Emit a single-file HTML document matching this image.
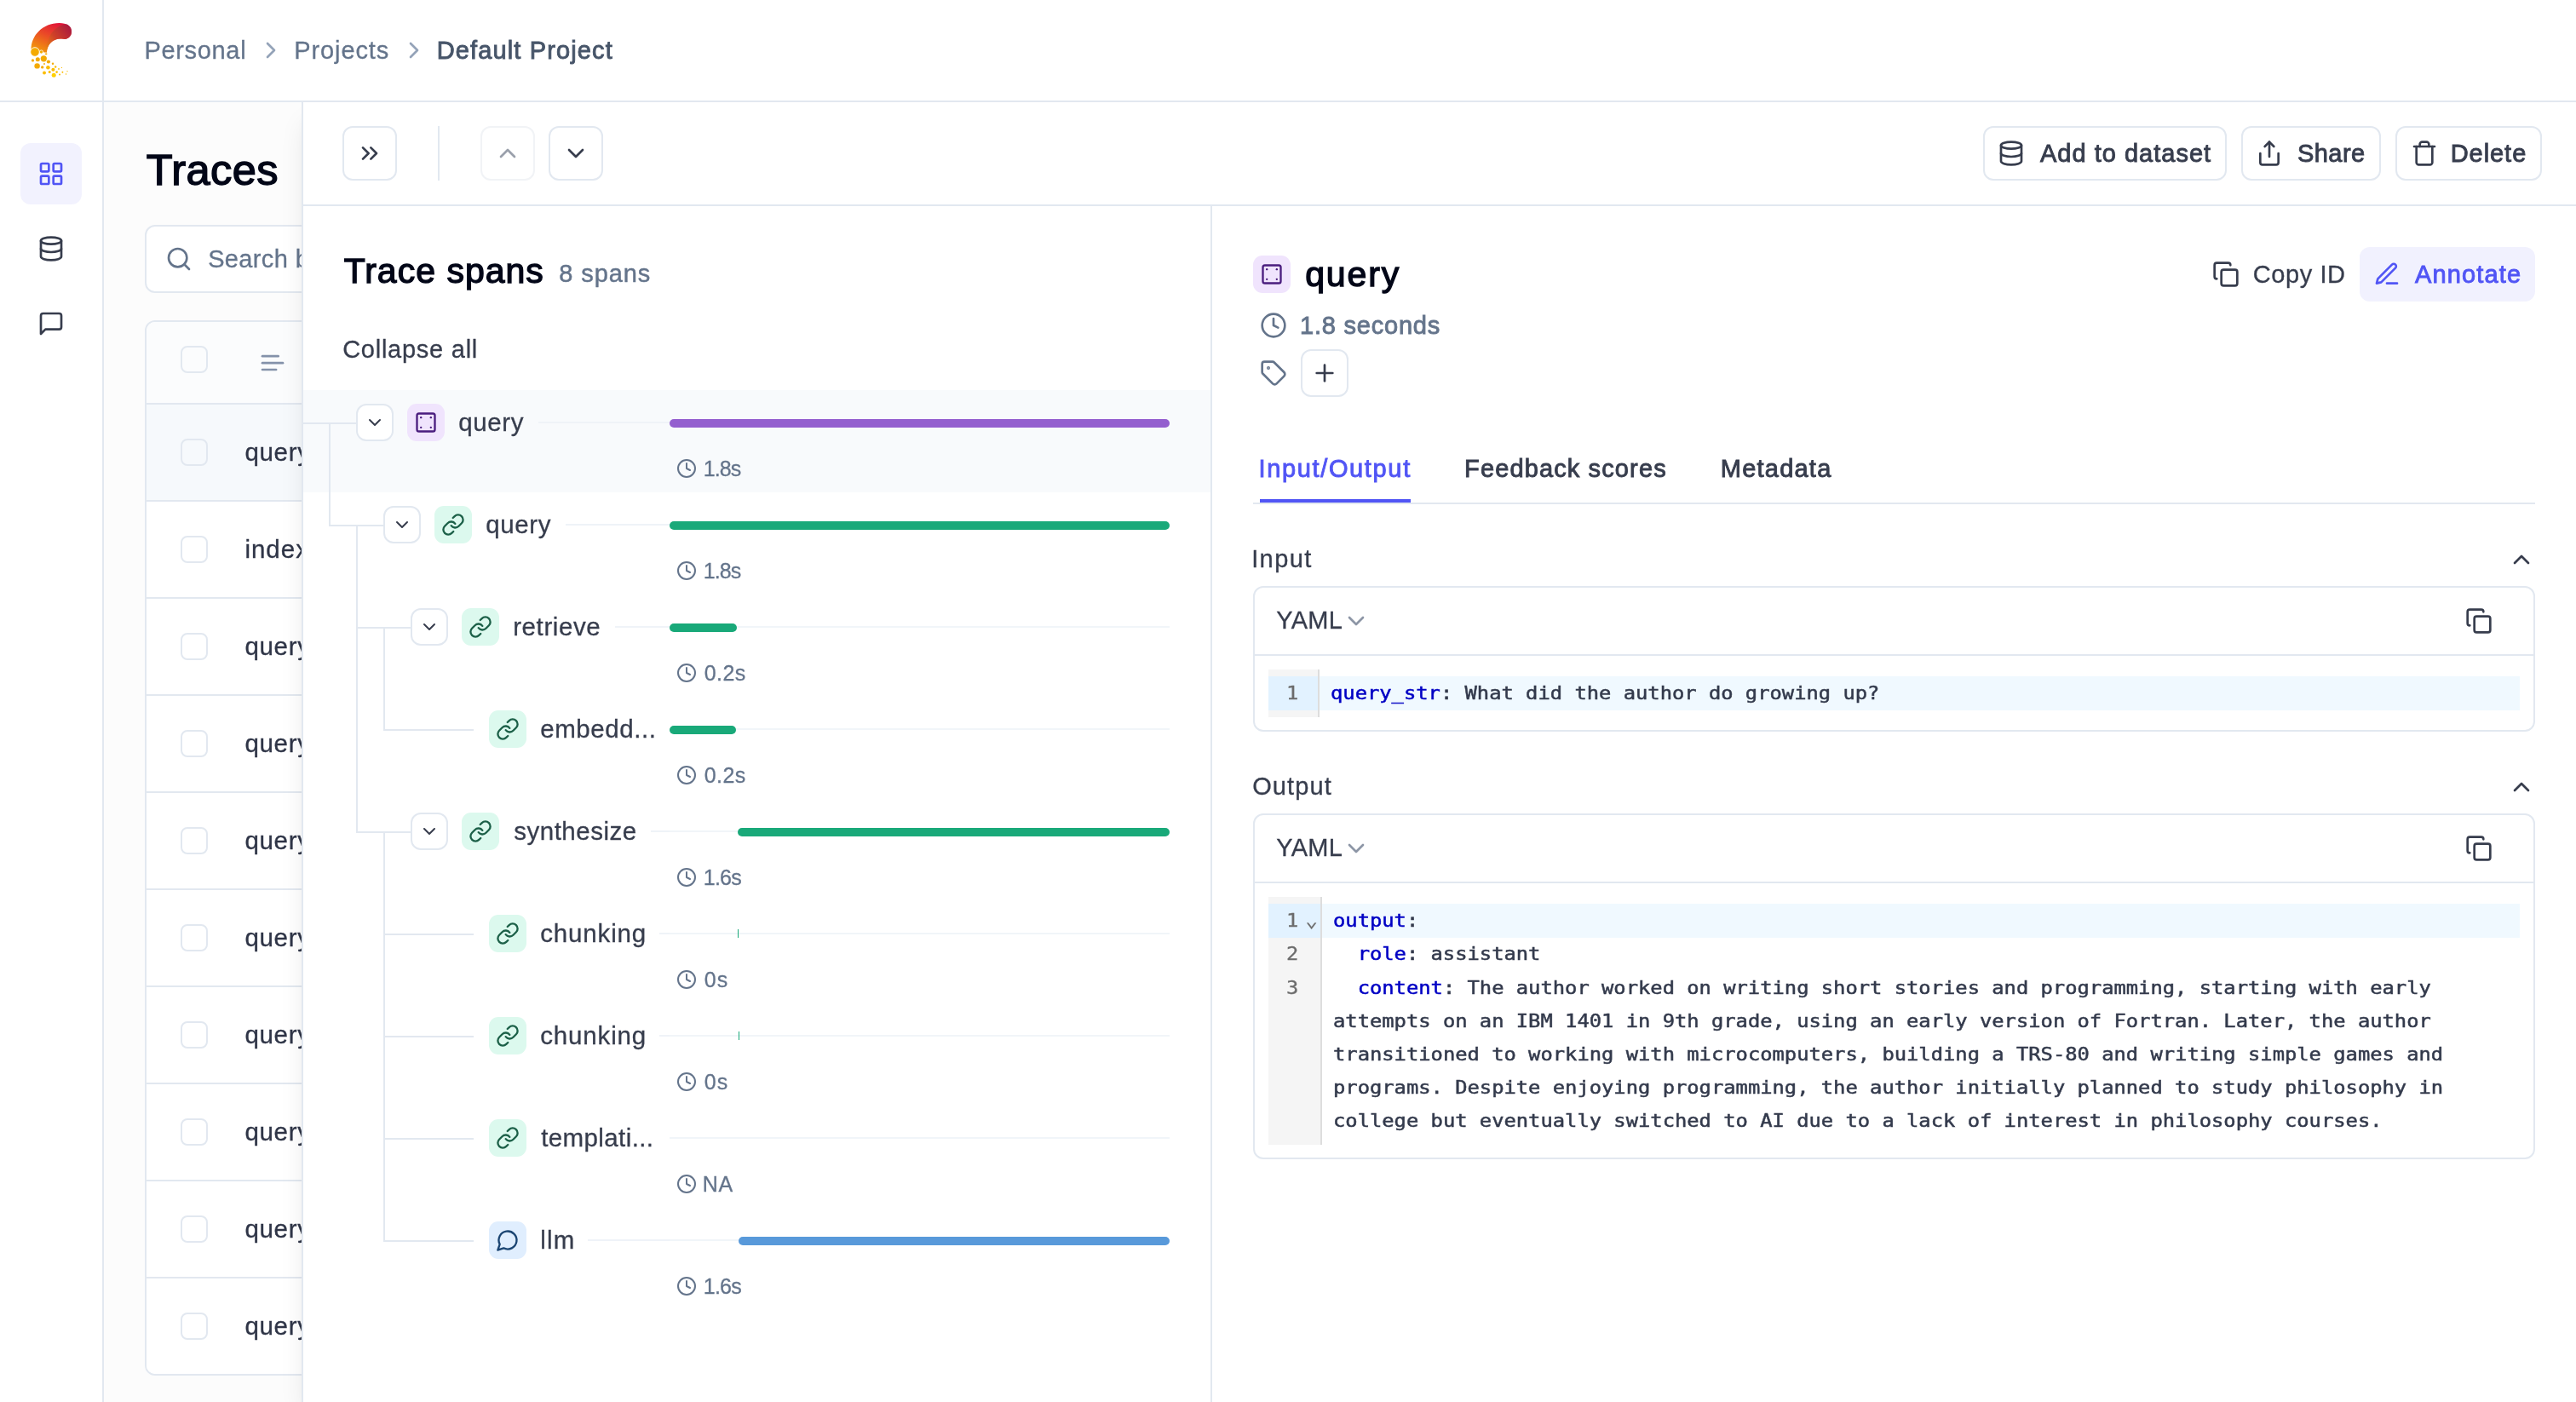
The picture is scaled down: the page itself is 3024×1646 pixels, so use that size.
<!DOCTYPE html>
<html lang="en">
<head>
<meta charset="utf-8">
<title>Traces - Default Project</title>
<style>
html,body{margin:0;padding:0;background:#fff}
body{width:3024px;height:1646px;overflow:hidden;font-family:"Liberation Sans", Arial, sans-serif;-webkit-font-smoothing:antialiased}
#app{will-change:transform;position:relative;width:3024px;height:1646px;overflow:hidden;background:#fff}
#app div,#app section,#app svg.ic,#app span.t{position:absolute}
#main{position:absolute;left:122px;top:120px;width:2902px;height:1526px;background:#fcfcfc}
#main>*{margin-left:-122px;margin-top:-120px}
#side{position:absolute;left:0;top:0;width:120px;height:1646px;background:#fff;border-right:2px solid #e2e8f0}
#hdr{position:absolute;left:0;top:0;width:3024px;height:118px;border-bottom:2px solid #e2e8f0;background:transparent}
#sheet{position:absolute;left:354px;top:120px;width:2668px;height:1526px;background:#fff;border-left:2px solid #e2e8f0;box-shadow:0 20px 30px -6px rgba(0,0,0,.10), 0 8px 12px -8px rgba(0,0,0,.10);clip-path:inset(0 0 0 -200px)}
span.t{white-space:pre;line-height:1;display:block}
span.m{font-family:"DejaVu Sans Mono", "Liberation Mono", monospace;transform:scaleY(.9);transform-origin:0 84.6%}
</style>
</head>
<body>
<div id="app">
<main id="main">
<span class="t" style="left:171.75px;top:175.45px;font-size:50.5px;color:#020617;-webkit-text-stroke:1.5px #020617;letter-spacing:0.458px;">Traces</span>
<div style="left:170px;top:264px;width:700px;height:80px;border:2px solid #e2e8f0;border-radius:12px;background:#fff;box-sizing:border-box"></div>
<svg class="ic" style="left:194px;top:288px;color:#64748b;" width="32" height="32" viewBox="0 0 24 24" fill="none" stroke="currentColor" stroke-width="2" stroke-linecap="round" stroke-linejoin="round"><circle cx="11" cy="11" r="8"/><path d="m21 21-4.3-4.3"/></svg>
<span class="t" style="left:244.15px;top:290.35px;font-size:29px;color:#64748b;-webkit-text-stroke:0.3px #64748b;letter-spacing:0.365px;">Search by ID</span>
<section id="tbl" style="left:170px;top:376px;width:1400px;height:1239px;border:2px solid #e2e8f0;border-radius:12px;background:#fff;box-sizing:border-box;overflow:hidden">
<div style="left:0;top:0;width:100%;height:95px;background:#fbfcfd;border-bottom:2px solid #e2e8f0"></div>
<div style="left:0;top:97px;width:100%;height:112px;background:#f6f9fc;border-bottom:2px solid #e2e8f0;"></div>
<div style="left:0;top:211px;width:100%;height:112px;background:#fff;border-bottom:2px solid #e2e8f0;"></div>
<div style="left:0;top:325px;width:100%;height:112px;background:#fff;border-bottom:2px solid #e2e8f0;"></div>
<div style="left:0;top:439px;width:100%;height:112px;background:#fff;border-bottom:2px solid #e2e8f0;"></div>
<div style="left:0;top:553px;width:100%;height:112px;background:#fff;border-bottom:2px solid #e2e8f0;"></div>
<div style="left:0;top:667px;width:100%;height:112px;background:#fff;border-bottom:2px solid #e2e8f0;"></div>
<div style="left:0;top:781px;width:100%;height:112px;background:#fff;border-bottom:2px solid #e2e8f0;"></div>
<div style="left:0;top:895px;width:100%;height:112px;background:#fff;border-bottom:2px solid #e2e8f0;"></div>
<div style="left:0;top:1009px;width:100%;height:112px;background:#fff;border-bottom:2px solid #e2e8f0;"></div>
<div style="left:0;top:1123px;width:100%;height:112px;background:#fff;"></div>
</section>
<div style="left:212px;top:406px;width:32px;height:32px;border:2px solid #e2e8f0;border-radius:8px;box-sizing:border-box"></div>
<svg class="ic" style="left:304px;top:410px;color:#8492aa;" width="32" height="32" viewBox="0 0 24 24" fill="none" stroke="currentColor" stroke-width="2" stroke-linecap="round" stroke-linejoin="round"><path d="M17 6.1H3"/><path d="M21 12.1H3"/><path d="M15.1 18H3"/></svg>
<span class="t" style="left:352.15px;top:412.35px;font-size:29px;color:#64748b;-webkit-text-stroke:0.3px #64748b;">ID</span>
<div style="left:212px;top:515px;width:32px;height:32px;border:2px solid #e2e8f0;border-radius:8px;box-sizing:border-box"></div>
<span class="t" style="left:287.45px;top:515.93px;font-size:29.5px;color:#2f3547;-webkit-text-stroke:0.3px #2f3547;letter-spacing:0.664px;">query</span>
<div style="left:212px;top:629px;width:32px;height:32px;border:2px solid #e2e8f0;border-radius:8px;box-sizing:border-box"></div>
<span class="t" style="left:287.45px;top:629.93px;font-size:29.5px;color:#2f3547;-webkit-text-stroke:0.3px #2f3547;letter-spacing:0.982px;">index</span>
<div style="left:212px;top:743px;width:32px;height:32px;border:2px solid #e2e8f0;border-radius:8px;box-sizing:border-box"></div>
<span class="t" style="left:287.45px;top:743.93px;font-size:29.5px;color:#2f3547;-webkit-text-stroke:0.3px #2f3547;letter-spacing:0.664px;">query</span>
<div style="left:212px;top:857px;width:32px;height:32px;border:2px solid #e2e8f0;border-radius:8px;box-sizing:border-box"></div>
<span class="t" style="left:287.45px;top:857.93px;font-size:29.5px;color:#2f3547;-webkit-text-stroke:0.3px #2f3547;letter-spacing:0.664px;">query</span>
<div style="left:212px;top:971px;width:32px;height:32px;border:2px solid #e2e8f0;border-radius:8px;box-sizing:border-box"></div>
<span class="t" style="left:287.45px;top:971.93px;font-size:29.5px;color:#2f3547;-webkit-text-stroke:0.3px #2f3547;letter-spacing:0.664px;">query</span>
<div style="left:212px;top:1085px;width:32px;height:32px;border:2px solid #e2e8f0;border-radius:8px;box-sizing:border-box"></div>
<span class="t" style="left:287.45px;top:1085.93px;font-size:29.5px;color:#2f3547;-webkit-text-stroke:0.3px #2f3547;letter-spacing:0.664px;">query</span>
<div style="left:212px;top:1199px;width:32px;height:32px;border:2px solid #e2e8f0;border-radius:8px;box-sizing:border-box"></div>
<span class="t" style="left:287.45px;top:1199.93px;font-size:29.5px;color:#2f3547;-webkit-text-stroke:0.3px #2f3547;letter-spacing:0.664px;">query</span>
<div style="left:212px;top:1313px;width:32px;height:32px;border:2px solid #e2e8f0;border-radius:8px;box-sizing:border-box"></div>
<span class="t" style="left:287.45px;top:1313.93px;font-size:29.5px;color:#2f3547;-webkit-text-stroke:0.3px #2f3547;letter-spacing:0.664px;">query</span>
<div style="left:212px;top:1427px;width:32px;height:32px;border:2px solid #e2e8f0;border-radius:8px;box-sizing:border-box"></div>
<span class="t" style="left:287.45px;top:1427.93px;font-size:29.5px;color:#2f3547;-webkit-text-stroke:0.3px #2f3547;letter-spacing:0.664px;">query</span>
<div style="left:212px;top:1541px;width:32px;height:32px;border:2px solid #e2e8f0;border-radius:8px;box-sizing:border-box"></div>
<span class="t" style="left:287.45px;top:1541.93px;font-size:29.5px;color:#2f3547;-webkit-text-stroke:0.3px #2f3547;letter-spacing:0.664px;">query</span>
</main>
<nav id="side">
<svg class="ic" style="left:30px;top:22px" width="64" height="76" viewBox="30 22 64 76">
<defs>
<linearGradient id="lg1" x1="0.75" y1="0" x2="0.15" y2="1"><stop offset="0" stop-color="#e0103a"/><stop offset="0.45" stop-color="#ea4a27"/><stop offset="1" stop-color="#f3a008"/></linearGradient>
<linearGradient id="lg2" x1="1" y1="0.1" x2="0" y2="0.9"><stop offset="0" stop-color="#a8173f"/><stop offset="0.55" stop-color="#cf4128"/><stop offset="1" stop-color="#ee8a10"/></linearGradient>
</defs>
<path d="M36.6 58.5 C36.2 41.5 50.5 27 69.5 27 C78.5 27 84.2 31.5 84 37.6 C83.8 43.2 79.2 46.6 74.6 45.8 C64.5 43.6 55.4 50.2 54.8 62 Z" fill="url(#lg1)"/>
<path d="M56.5 47.5 C59.5 36.5 68.5 29.5 77.5 28.2 C82 29.6 84.2 33.2 84 37.6 C83.8 43.2 79.2 46.6 74.6 45.8 C64.5 43.6 55.4 50.2 54.8 62 L52.5 60 C52.8 55.5 54.2 51.5 56.5 47.5 Z" fill="url(#lg2)"/>
<g fill="#f4aa00">
<circle cx="41" cy="61" r="5.3" stroke="#fff" stroke-width="0.9"/><circle cx="48.5" cy="61" r="2.1" stroke="#fff" stroke-width="0.7"/><circle cx="54.1" cy="63.3" r="1.4" stroke="#fff" stroke-width="0.6"/>
<circle cx="51.3" cy="68.8" r="3.6"/><circle cx="44.3" cy="69.7" r="2.5"/><circle cx="38.5" cy="70.9" r="1.6"/><circle cx="56.9" cy="72.5" r="2.1"/>
<circle cx="62" cy="74.8" r="1.2"/><circle cx="52" cy="75" r="0.95"/><circle cx="43.6" cy="77.4" r="3.2"/><circle cx="49.7" cy="78.9" r="1.7"/>
</g>
<g fill="#fbbc00">
<circle cx="56.4" cy="79.2" r="2.3"/><circle cx="65.2" cy="78.5" r="1.2"/><circle cx="69" cy="80.9" r="0.95"/><circle cx="72.5" cy="79.4" r="0.55"/>
<circle cx="62.4" cy="81.8" r="2.05"/><circle cx="58.2" cy="84.5" r="1.5"/><circle cx="66.6" cy="84.6" r="1.3"/><circle cx="73.4" cy="84.8" r="0.95"/><circle cx="79" cy="83.7" r="0.65"/>
<circle cx="52" cy="85.5" r="1.95"/><circle cx="70" cy="87.4" r="1.0"/><circle cx="77.5" cy="87.1" r="0.75"/>
</g>
<circle cx="63.2" cy="88.2" r="2.5" fill="#ffd000"/>
</svg>
<div style="left:24px;top:168px;width:72px;height:72px;background:#f2f2fe;border-radius:12px"></div>
<svg class="ic" style="left:44px;top:188px;color:#5155f5;" width="32" height="32" viewBox="0 0 24 24" fill="none" stroke="currentColor" stroke-width="2" stroke-linecap="round" stroke-linejoin="round"><rect width="7" height="7" x="3" y="3" rx="1"/><rect width="7" height="7" x="14" y="3" rx="1"/><rect width="7" height="7" x="14" y="14" rx="1"/><rect width="7" height="7" x="3" y="14" rx="1"/></svg>
<svg class="ic" style="left:44px;top:276px;color:#373d4d;" width="32" height="32" viewBox="0 0 24 24" fill="none" stroke="currentColor" stroke-width="2" stroke-linecap="round" stroke-linejoin="round"><ellipse cx="12" cy="5" rx="9" ry="3"/><path d="M3 5V19A9 3 0 0 0 21 19V5"/><path d="M3 12A9 3 0 0 0 21 12"/></svg>
<svg class="ic" style="left:44px;top:364px;color:#373d4d;" width="32" height="32" viewBox="0 0 24 24" fill="none" stroke="currentColor" stroke-width="2" stroke-linecap="round" stroke-linejoin="round"><path d="M21 15a2 2 0 0 1-2 2H7l-4 4V5a2 2 0 0 1 2-2h14a2 2 0 0 1 2 2z"/></svg>
</nav>
<header id="hdr">
<span class="t" style="left:169.45px;top:45.35px;font-size:29px;color:#64748b;-webkit-text-stroke:0.3px #64748b;letter-spacing:0.669px;">Personal</span>
<svg class="ic" style="left:302px;top:42.5px;color:#94a3b8;" width="32" height="32" viewBox="0 0 24 24" fill="none" stroke="currentColor" stroke-width="2" stroke-linecap="round" stroke-linejoin="round"><path d="m9 18 6-6-6-6"/></svg>
<span class="t" style="left:345.15px;top:45.35px;font-size:29px;color:#64748b;-webkit-text-stroke:0.3px #64748b;letter-spacing:0.920px;">Projects</span>
<svg class="ic" style="left:470px;top:42.5px;color:#94a3b8;" width="32" height="32" viewBox="0 0 24 24" fill="none" stroke="currentColor" stroke-width="2" stroke-linecap="round" stroke-linejoin="round"><path d="m9 18 6-6-6-6"/></svg>
<span class="t" style="left:512.65px;top:45.35px;font-size:29px;color:#475569;-webkit-text-stroke:0.9px #475569;letter-spacing:1.140px;">Default Project</span>
</header>
<aside id="sheet">
</aside>
<div style="left:402px;top:148px;width:64px;height:64px;border:2px solid #e2e8f0;border-radius:12px;background:#fff;box-sizing:border-box;"></div>
<svg class="ic" style="left:418px;top:164px;color:#373d4d;" width="32" height="32" viewBox="0 0 24 24" fill="none" stroke="currentColor" stroke-width="2" stroke-linecap="round" stroke-linejoin="round"><path d="m6 17 5-5-5-5"/><path d="m13 17 5-5-5-5"/></svg>
<div style="left:514px;top:148px;width:2px;height:64px;background:#e2e8f0"></div>
<div style="left:564px;top:148px;width:64px;height:64px;border:2px solid #e2e8f0;border-radius:12px;background:#fff;box-sizing:border-box;border-color:#f1f3f6"></div>
<svg class="ic" style="left:580px;top:164px;color:#9aa0ab;" width="32" height="32" viewBox="0 0 24 24" fill="none" stroke="currentColor" stroke-width="2" stroke-linecap="round" stroke-linejoin="round"><path d="m18 15-6-6-6 6"/></svg>
<div style="left:644px;top:148px;width:64px;height:64px;border:2px solid #e2e8f0;border-radius:12px;background:#fff;box-sizing:border-box;"></div>
<svg class="ic" style="left:660px;top:164px;color:#373d4d;" width="32" height="32" viewBox="0 0 24 24" fill="none" stroke="currentColor" stroke-width="2" stroke-linecap="round" stroke-linejoin="round"><path d="m6 9 6 6 6-6"/></svg>
<div style="left:2328px;top:148px;width:286px;height:64px;border:2px solid #e2e8f0;border-radius:12px;background:#fff;box-sizing:border-box;"></div>
<svg class="ic" style="left:2345px;top:164px;color:#373d4d;" width="32" height="32" viewBox="0 0 24 24" fill="none" stroke="currentColor" stroke-width="2" stroke-linecap="round" stroke-linejoin="round"><ellipse cx="12" cy="5" rx="9" ry="3"/><path d="M3 5V19A9 3 0 0 0 21 19V5"/><path d="M3 12A9 3 0 0 0 21 12"/></svg>
<span class="t" style="left:2394.95px;top:165.95px;font-size:29px;color:#373d4d;-webkit-text-stroke:0.9px #373d4d;letter-spacing:1.010px;">Add to dataset</span>
<div style="left:2631px;top:148px;width:164px;height:64px;border:2px solid #e2e8f0;border-radius:12px;background:#fff;box-sizing:border-box;"></div>
<svg class="ic" style="left:2648px;top:164px;color:#373d4d;" width="32" height="32" viewBox="0 0 24 24" fill="none" stroke="currentColor" stroke-width="2" stroke-linecap="round" stroke-linejoin="round"><path d="M4 12v8a2 2 0 0 0 2 2h12a2 2 0 0 0 2-2v-8"/><polyline points="16 6 12 2 8 6"/><line x1="12" x2="12" y1="2" y2="15"/></svg>
<span class="t" style="left:2696.95px;top:165.95px;font-size:29px;color:#373d4d;-webkit-text-stroke:0.9px #373d4d;letter-spacing:0.461px;">Share</span>
<div style="left:2812px;top:148px;width:172px;height:64px;border:2px solid #e2e8f0;border-radius:12px;background:#fff;box-sizing:border-box;"></div>
<svg class="ic" style="left:2829.5px;top:164px;color:#373d4d;" width="32" height="32" viewBox="0 0 24 24" fill="none" stroke="currentColor" stroke-width="2" stroke-linecap="round" stroke-linejoin="round"><path d="M3 6h18"/><path d="M19 6v14c0 1-1 2-2 2H7c-1 0-2-1-2-2V6"/><path d="M8 6V4c0-1 1-2 2-2h4c1 0 2 1 2 2v2"/></svg>
<span class="t" style="left:2876.65px;top:165.95px;font-size:29px;color:#373d4d;-webkit-text-stroke:0.9px #373d4d;letter-spacing:0.960px;">Delete</span>
<div style="left:356px;top:240px;width:2668px;height:2px;background:#e2e8f0"></div>
<div style="left:1421px;top:242px;width:2px;height:1404px;background:#e2e8f0"></div>
<span class="t" style="left:403.68px;top:298.19px;font-size:41px;color:#020617;-webkit-text-stroke:1.35px #020617;letter-spacing:1.007px;">Trace spans</span>
<span class="t" style="left:656.23px;top:306.95px;font-size:29px;color:#64748b;-webkit-text-stroke:0.45px #64748b;letter-spacing:0.913px;">8 spans</span>
<span class="t" style="left:402.15px;top:396.35px;font-size:29px;color:#373d4d;-webkit-text-stroke:0.3px #373d4d;letter-spacing:0.748px;">Collapse all</span>
<div style="left:356px;top:458px;width:1065px;height:120px;background:#f8fafc"></div>
<div style="left:356px;top:496px;width:62px;height:2px;background:#e2e8f0"></div>
<div style="left:386px;top:496px;width:2px;height:122px;background:#e2e8f0"></div>
<div style="left:386px;top:616px;width:64px;height:2px;background:#e2e8f0"></div>
<div style="left:418px;top:616px;width:2px;height:362px;background:#e2e8f0"></div>
<div style="left:418px;top:736px;width:64px;height:2px;background:#e2e8f0"></div>
<div style="left:450px;top:736px;width:2px;height:122px;background:#e2e8f0"></div>
<div style="left:450px;top:856px;width:106px;height:2px;background:#e2e8f0"></div>
<div style="left:418px;top:976px;width:64px;height:2px;background:#e2e8f0"></div>
<div style="left:450px;top:976px;width:2px;height:482px;background:#e2e8f0"></div>
<div style="left:450px;top:1096px;width:106px;height:2px;background:#e2e8f0"></div>
<div style="left:450px;top:1216px;width:106px;height:2px;background:#e2e8f0"></div>
<div style="left:450px;top:1336px;width:106px;height:2px;background:#e2e8f0"></div>
<div style="left:450px;top:1456px;width:106px;height:2px;background:#e2e8f0"></div>
<div style="left:418px;top:474px;width:44px;height:44px;border:2px solid #e2e8f0;border-radius:12px;background:#fff;box-sizing:border-box"></div>
<svg class="ic" style="left:428px;top:484px;color:#373d4d;" width="24" height="24" viewBox="0 0 24 24" fill="none" stroke="currentColor" stroke-width="2" stroke-linecap="round" stroke-linejoin="round"><path d="m6 9 6 6 6-6"/></svg>
<div style="left:478px;top:474px;width:44px;height:44px;background:#f0e4fd;border-radius:11px"></div>
<svg class="ic" style="left:486px;top:482px;color:#4a1d7e;" width="28" height="28" viewBox="0 0 24 24" fill="none" stroke="currentColor" stroke-width="2" stroke-linecap="round" stroke-linejoin="round"><rect width="18" height="18" x="3" y="3" rx="2"/><path d="M7 7h.01"/><path d="M17 7h.01"/><path d="M7 17h.01"/><path d="M17 17h.01"/></svg>
<span class="t" style="left:538.15px;top:481.23px;font-size:29.5px;color:#373d4d;-webkit-text-stroke:0.3px #373d4d;letter-spacing:0.664px;">query</span>
<div style="left:632px;top:495px;width:154px;height:2px;background:#eff3f8"></div>
<div style="left:786px;top:495px;width:587px;height:2px;background:#f1f5f9"></div>
<div style="left:786px;top:492px;width:587px;height:10px;background:#945fcf;border-radius:5px"></div>
<svg class="ic" style="left:794px;top:538px;color:#64748b;" width="24" height="24" viewBox="0 0 24 24" fill="none" stroke="currentColor" stroke-width="2" stroke-linecap="round" stroke-linejoin="round"><circle cx="12" cy="12" r="10"/><polyline points="12 6 12 12 16 14"/></svg>
<span class="t" style="left:825.75px;top:537.54px;font-size:25px;color:#64748b;-webkit-text-stroke:0.3px #64748b;letter-spacing:-0.884px;">1.8s</span>
<div style="left:450px;top:594px;width:44px;height:44px;border:2px solid #e2e8f0;border-radius:12px;background:#fff;box-sizing:border-box"></div>
<svg class="ic" style="left:460px;top:604px;color:#373d4d;" width="24" height="24" viewBox="0 0 24 24" fill="none" stroke="currentColor" stroke-width="2" stroke-linecap="round" stroke-linejoin="round"><path d="m6 9 6 6 6-6"/></svg>
<div style="left:510px;top:594px;width:44px;height:44px;background:#dcf9ee;border-radius:11px"></div>
<svg class="ic" style="left:518px;top:602px;color:#1c6048;" width="28" height="28" viewBox="0 0 24 24" fill="none" stroke="currentColor" stroke-width="2" stroke-linecap="round" stroke-linejoin="round"><path d="M10 13a5 5 0 0 0 7.54.54l3-3a5 5 0 0 0-7.07-7.07l-1.72 1.71"/><path d="M14 11a5 5 0 0 0-7.54-.54l-3 3a5 5 0 0 0 7.07 7.07l1.71-1.71"/></svg>
<span class="t" style="left:570.15px;top:601.23px;font-size:29.5px;color:#373d4d;-webkit-text-stroke:0.3px #373d4d;letter-spacing:0.664px;">query</span>
<div style="left:664px;top:615px;width:122px;height:2px;background:#eff3f8"></div>
<div style="left:786px;top:615px;width:587px;height:2px;background:#f1f5f9"></div>
<div style="left:786px;top:612px;width:587px;height:10px;background:#19a979;border-radius:5px"></div>
<svg class="ic" style="left:794px;top:658px;color:#64748b;" width="24" height="24" viewBox="0 0 24 24" fill="none" stroke="currentColor" stroke-width="2" stroke-linecap="round" stroke-linejoin="round"><circle cx="12" cy="12" r="10"/><polyline points="12 6 12 12 16 14"/></svg>
<span class="t" style="left:825.75px;top:657.54px;font-size:25px;color:#64748b;-webkit-text-stroke:0.3px #64748b;letter-spacing:-0.884px;">1.8s</span>
<div style="left:482px;top:714px;width:44px;height:44px;border:2px solid #e2e8f0;border-radius:12px;background:#fff;box-sizing:border-box"></div>
<svg class="ic" style="left:492px;top:724px;color:#373d4d;" width="24" height="24" viewBox="0 0 24 24" fill="none" stroke="currentColor" stroke-width="2" stroke-linecap="round" stroke-linejoin="round"><path d="m6 9 6 6 6-6"/></svg>
<div style="left:542px;top:714px;width:44px;height:44px;background:#dcf9ee;border-radius:11px"></div>
<svg class="ic" style="left:550px;top:722px;color:#1c6048;" width="28" height="28" viewBox="0 0 24 24" fill="none" stroke="currentColor" stroke-width="2" stroke-linecap="round" stroke-linejoin="round"><path d="M10 13a5 5 0 0 0 7.54.54l3-3a5 5 0 0 0-7.07-7.07l-1.72 1.71"/><path d="M14 11a5 5 0 0 0-7.54-.54l-3 3a5 5 0 0 0 7.07 7.07l1.71-1.71"/></svg>
<span class="t" style="left:602.15px;top:721.23px;font-size:29.5px;color:#373d4d;-webkit-text-stroke:0.3px #373d4d;letter-spacing:0.606px;">retrieve</span>
<div style="left:721.5px;top:735px;width:64.5px;height:2px;background:#eff3f8"></div>
<div style="left:786px;top:735px;width:587px;height:2px;background:#f1f5f9"></div>
<div style="left:786px;top:732px;width:79px;height:10px;background:#19a979;border-radius:5px"></div>
<svg class="ic" style="left:794px;top:778px;color:#64748b;" width="24" height="24" viewBox="0 0 24 24" fill="none" stroke="currentColor" stroke-width="2" stroke-linecap="round" stroke-linejoin="round"><circle cx="12" cy="12" r="10"/><polyline points="12 6 12 12 16 14"/></svg>
<span class="t" style="left:826.75px;top:777.54px;font-size:25px;color:#64748b;-webkit-text-stroke:0.3px #64748b;letter-spacing:0.449px;">0.2s</span>
<div style="left:574px;top:834px;width:44px;height:44px;background:#dcf9ee;border-radius:11px"></div>
<svg class="ic" style="left:582px;top:842px;color:#1c6048;" width="28" height="28" viewBox="0 0 24 24" fill="none" stroke="currentColor" stroke-width="2" stroke-linecap="round" stroke-linejoin="round"><path d="M10 13a5 5 0 0 0 7.54.54l3-3a5 5 0 0 0-7.07-7.07l-1.72 1.71"/><path d="M14 11a5 5 0 0 0-7.54-.54l-3 3a5 5 0 0 0 7.07 7.07l1.71-1.71"/></svg>
<span class="t" style="left:634.15px;top:841.23px;font-size:29.5px;color:#373d4d;-webkit-text-stroke:0.3px #373d4d;letter-spacing:0.588px;">embedd...</span>
<div style="left:786px;top:855px;width:587px;height:2px;background:#f1f5f9"></div>
<div style="left:786px;top:852px;width:78px;height:10px;background:#19a979;border-radius:5px"></div>
<svg class="ic" style="left:794px;top:898px;color:#64748b;" width="24" height="24" viewBox="0 0 24 24" fill="none" stroke="currentColor" stroke-width="2" stroke-linecap="round" stroke-linejoin="round"><circle cx="12" cy="12" r="10"/><polyline points="12 6 12 12 16 14"/></svg>
<span class="t" style="left:826.75px;top:897.54px;font-size:25px;color:#64748b;-webkit-text-stroke:0.3px #64748b;letter-spacing:0.449px;">0.2s</span>
<div style="left:482px;top:954px;width:44px;height:44px;border:2px solid #e2e8f0;border-radius:12px;background:#fff;box-sizing:border-box"></div>
<svg class="ic" style="left:492px;top:964px;color:#373d4d;" width="24" height="24" viewBox="0 0 24 24" fill="none" stroke="currentColor" stroke-width="2" stroke-linecap="round" stroke-linejoin="round"><path d="m6 9 6 6 6-6"/></svg>
<div style="left:542px;top:954px;width:44px;height:44px;background:#dcf9ee;border-radius:11px"></div>
<svg class="ic" style="left:550px;top:962px;color:#1c6048;" width="28" height="28" viewBox="0 0 24 24" fill="none" stroke="currentColor" stroke-width="2" stroke-linecap="round" stroke-linejoin="round"><path d="M10 13a5 5 0 0 0 7.54.54l3-3a5 5 0 0 0-7.07-7.07l-1.72 1.71"/><path d="M14 11a5 5 0 0 0-7.54-.54l-3 3a5 5 0 0 0 7.07 7.07l1.71-1.71"/></svg>
<span class="t" style="left:603.15px;top:961.23px;font-size:29.5px;color:#373d4d;-webkit-text-stroke:0.3px #373d4d;letter-spacing:0.526px;">synthesize</span>
<div style="left:764px;top:975px;width:22px;height:2px;background:#eff3f8"></div>
<div style="left:786px;top:975px;width:587px;height:2px;background:#f1f5f9"></div>
<div style="left:866px;top:972px;width:507px;height:10px;background:#19a979;border-radius:5px"></div>
<svg class="ic" style="left:794px;top:1018px;color:#64748b;" width="24" height="24" viewBox="0 0 24 24" fill="none" stroke="currentColor" stroke-width="2" stroke-linecap="round" stroke-linejoin="round"><circle cx="12" cy="12" r="10"/><polyline points="12 6 12 12 16 14"/></svg>
<span class="t" style="left:825.75px;top:1017.54px;font-size:25px;color:#64748b;-webkit-text-stroke:0.3px #64748b;letter-spacing:-0.751px;">1.6s</span>
<div style="left:574px;top:1074px;width:44px;height:44px;background:#dcf9ee;border-radius:11px"></div>
<svg class="ic" style="left:582px;top:1082px;color:#1c6048;" width="28" height="28" viewBox="0 0 24 24" fill="none" stroke="currentColor" stroke-width="2" stroke-linecap="round" stroke-linejoin="round"><path d="M10 13a5 5 0 0 0 7.54.54l3-3a5 5 0 0 0-7.07-7.07l-1.72 1.71"/><path d="M14 11a5 5 0 0 0-7.54-.54l-3 3a5 5 0 0 0 7.07 7.07l1.71-1.71"/></svg>
<span class="t" style="left:634.15px;top:1081.23px;font-size:29.5px;color:#373d4d;-webkit-text-stroke:0.3px #373d4d;letter-spacing:0.860px;">chunking</span>
<div style="left:774px;top:1095px;width:12px;height:2px;background:#eff3f8"></div>
<div style="left:786px;top:1095px;width:587px;height:2px;background:#f1f5f9"></div>
<div style="left:866px;top:1091px;width:1px;height:10px;background:#19a979"></div>
<svg class="ic" style="left:794px;top:1138px;color:#64748b;" width="24" height="24" viewBox="0 0 24 24" fill="none" stroke="currentColor" stroke-width="2" stroke-linecap="round" stroke-linejoin="round"><circle cx="12" cy="12" r="10"/><polyline points="12 6 12 12 16 14"/></svg>
<span class="t" style="left:826.75px;top:1137.54px;font-size:25px;color:#64748b;-webkit-text-stroke:0.3px #64748b;letter-spacing:1.196px;">0s</span>
<div style="left:574px;top:1194px;width:44px;height:44px;background:#dcf9ee;border-radius:11px"></div>
<svg class="ic" style="left:582px;top:1202px;color:#1c6048;" width="28" height="28" viewBox="0 0 24 24" fill="none" stroke="currentColor" stroke-width="2" stroke-linecap="round" stroke-linejoin="round"><path d="M10 13a5 5 0 0 0 7.54.54l3-3a5 5 0 0 0-7.07-7.07l-1.72 1.71"/><path d="M14 11a5 5 0 0 0-7.54-.54l-3 3a5 5 0 0 0 7.07 7.07l1.71-1.71"/></svg>
<span class="t" style="left:634.15px;top:1201.23px;font-size:29.5px;color:#373d4d;-webkit-text-stroke:0.3px #373d4d;letter-spacing:0.860px;">chunking</span>
<div style="left:774px;top:1215px;width:12px;height:2px;background:#eff3f8"></div>
<div style="left:786px;top:1215px;width:587px;height:2px;background:#f1f5f9"></div>
<div style="left:867px;top:1211px;width:1px;height:10px;background:#19a979"></div>
<svg class="ic" style="left:794px;top:1258px;color:#64748b;" width="24" height="24" viewBox="0 0 24 24" fill="none" stroke="currentColor" stroke-width="2" stroke-linecap="round" stroke-linejoin="round"><circle cx="12" cy="12" r="10"/><polyline points="12 6 12 12 16 14"/></svg>
<span class="t" style="left:826.75px;top:1257.54px;font-size:25px;color:#64748b;-webkit-text-stroke:0.3px #64748b;letter-spacing:1.196px;">0s</span>
<div style="left:574px;top:1314px;width:44px;height:44px;background:#dcf9ee;border-radius:11px"></div>
<svg class="ic" style="left:582px;top:1322px;color:#1c6048;" width="28" height="28" viewBox="0 0 24 24" fill="none" stroke="currentColor" stroke-width="2" stroke-linecap="round" stroke-linejoin="round"><path d="M10 13a5 5 0 0 0 7.54.54l3-3a5 5 0 0 0-7.07-7.07l-1.72 1.71"/><path d="M14 11a5 5 0 0 0-7.54-.54l-3 3a5 5 0 0 0 7.07 7.07l1.71-1.71"/></svg>
<span class="t" style="left:635.15px;top:1321.23px;font-size:29.5px;color:#373d4d;-webkit-text-stroke:0.3px #373d4d;letter-spacing:0.401px;">templati...</span>
<div style="left:786px;top:1335px;width:587px;height:2px;background:#f1f5f9"></div>
<svg class="ic" style="left:794px;top:1378px;color:#64748b;" width="24" height="24" viewBox="0 0 24 24" fill="none" stroke="currentColor" stroke-width="2" stroke-linecap="round" stroke-linejoin="round"><circle cx="12" cy="12" r="10"/><polyline points="12 6 12 12 16 14"/></svg>
<span class="t" style="left:824.75px;top:1377.54px;font-size:25px;color:#64748b;-webkit-text-stroke:0.3px #64748b;letter-spacing:0.646px;">NA</span>
<div style="left:574px;top:1434px;width:44px;height:44px;background:#e0eefe;border-radius:11px"></div>
<svg class="ic" style="left:582px;top:1442px;color:#1b4572;" width="28" height="28" viewBox="0 0 24 24" fill="none" stroke="currentColor" stroke-width="2" stroke-linecap="round" stroke-linejoin="round"><path d="M7.9 20A9 9 0 1 0 4 16.1L2 22Z"/></svg>
<span class="t" style="left:634.15px;top:1441.23px;font-size:29.5px;color:#373d4d;-webkit-text-stroke:0.3px #373d4d;letter-spacing:1.296px;">llm</span>
<div style="left:690px;top:1455px;width:96px;height:2px;background:#eff3f8"></div>
<div style="left:786px;top:1455px;width:587px;height:2px;background:#f1f5f9"></div>
<div style="left:867px;top:1452px;width:506px;height:10px;background:#5899da;border-radius:5px"></div>
<svg class="ic" style="left:794px;top:1498px;color:#64748b;" width="24" height="24" viewBox="0 0 24 24" fill="none" stroke="currentColor" stroke-width="2" stroke-linecap="round" stroke-linejoin="round"><circle cx="12" cy="12" r="10"/><polyline points="12 6 12 12 16 14"/></svg>
<span class="t" style="left:825.75px;top:1497.54px;font-size:25px;color:#64748b;-webkit-text-stroke:0.3px #64748b;letter-spacing:-0.751px;">1.6s</span>
<div style="left:1471px;top:300px;width:44px;height:44px;background:#f0e4fd;border-radius:11px"></div>
<svg class="ic" style="left:1479px;top:308px;color:#4a1d7e;" width="28" height="28" viewBox="0 0 24 24" fill="none" stroke="currentColor" stroke-width="2" stroke-linecap="round" stroke-linejoin="round"><rect width="18" height="18" x="3" y="3" rx="2"/><path d="M7 7h.01"/><path d="M17 7h.01"/><path d="M7 17h.01"/><path d="M17 17h.01"/></svg>
<span class="t" style="left:1532.17px;top:302.19px;font-size:41px;color:#020617;-webkit-text-stroke:1.35px #020617;letter-spacing:1.897px;">query</span>
<svg class="ic" style="left:2597px;top:306.3px;color:#373d4d;" width="32" height="32" viewBox="0 0 24 24" fill="none" stroke="currentColor" stroke-width="2" stroke-linecap="round" stroke-linejoin="round"><rect width="14" height="14" x="8" y="8" rx="2" ry="2"/><path d="M4 16c-1.1 0-2-.9-2-2V4c0-1.1.9-2 2-2h10c1.1 0 2 .9 2 2"/></svg>
<span class="t" style="left:2644.65px;top:307.65px;font-size:29px;color:#373d4d;-webkit-text-stroke:0.3px #373d4d;letter-spacing:0.598px;">Copy ID</span>
<div style="left:2770px;top:290px;width:206px;height:64px;background:#f1f1fe;border-radius:12px"></div>
<svg class="ic" style="left:2786px;top:306px;color:#5155f5;" width="32" height="32" viewBox="0 0 24 24" fill="none" stroke="currentColor" stroke-width="2" stroke-linecap="round" stroke-linejoin="round"><path d="M12 20h9"/><path d="M16.5 3.5a2.12 2.12 0 0 1 3 3L7 19l-4 1 1-4Z"/></svg>
<span class="t" style="left:2834.95px;top:307.65px;font-size:29px;color:#5155f5;-webkit-text-stroke:0.9px #5155f5;letter-spacing:1.161px;">Annotate</span>
<svg class="ic" style="left:1479px;top:366px;color:#64748b;" width="32" height="32" viewBox="0 0 24 24" fill="none" stroke="currentColor" stroke-width="2" stroke-linecap="round" stroke-linejoin="round"><circle cx="12" cy="12" r="10"/><polyline points="12 6 12 12 16 14"/></svg>
<span class="t" style="left:1526.05px;top:368.35px;font-size:29px;color:#64748b;-webkit-text-stroke:0.9px #64748b;letter-spacing:0.782px;">1.8 seconds</span>
<svg class="ic" style="left:1479px;top:422px;color:#64748b;" width="32" height="32" viewBox="0 0 24 24" fill="none" stroke="currentColor" stroke-width="2" stroke-linecap="round" stroke-linejoin="round"><path d="M12.586 2.586A2 2 0 0 0 11.172 2H4a2 2 0 0 0-2 2v7.172a2 2 0 0 0 .586 1.414l8.704 8.704a2.426 2.426 0 0 0 3.42 0l6.58-6.58a2.426 2.426 0 0 0 0-3.42z"/><circle cx="7.5" cy="7.5" r=".5" fill="currentColor"/></svg>
<div style="left:1527px;top:410px;width:56px;height:56px;border:2px solid #e2e8f0;border-radius:12px;background:#fff;box-sizing:border-box;"></div>
<svg class="ic" style="left:1539px;top:422px;color:#373d4d;" width="32" height="32" viewBox="0 0 24 24" fill="none" stroke="currentColor" stroke-width="2" stroke-linecap="round" stroke-linejoin="round"><path d="M5 12h14"/><path d="M12 5v14"/></svg>
<span class="t" style="left:1477.45px;top:536.35px;font-size:29px;color:#5155f5;-webkit-text-stroke:0.9px #5155f5;letter-spacing:1.649px;">Input/Output</span>
<span class="t" style="left:1719.05px;top:536.35px;font-size:29px;color:#373d4d;-webkit-text-stroke:0.9px #373d4d;letter-spacing:1.127px;">Feedback scores</span>
<span class="t" style="left:2019.75px;top:536.35px;font-size:29px;color:#373d4d;-webkit-text-stroke:0.9px #373d4d;letter-spacing:1.231px;">Metadata</span>
<div style="left:1471px;top:590px;width:1505px;height:2px;background:#e2e8f0"></div>
<div style="left:1479px;top:586px;width:177px;height:4px;background:#5155f5"></div>
<span class="t" style="left:1469.15px;top:642.35px;font-size:29px;color:#373d4d;-webkit-text-stroke:0.3px #373d4d;letter-spacing:1.414px;">Input</span>
<svg class="ic" style="left:2944px;top:640.5px;color:#373d4d;" width="32" height="32" viewBox="0 0 24 24" fill="none" stroke="currentColor" stroke-width="2" stroke-linecap="round" stroke-linejoin="round"><path d="m18 15-6-6-6 6"/></svg>
<div style="left:1471px;top:688px;width:1505px;height:171.2px;border:2px solid #e2e8f0;border-radius:12px;background:#fff;box-sizing:border-box"></div>
<div style="left:1473px;top:768px;width:1501px;height:2px;background:#e2e8f0"></div>
<span class="t" style="left:1498.15px;top:714.35px;font-size:29px;color:#373d4d;-webkit-text-stroke:0.3px #373d4d;letter-spacing:0.337px;">YAML</span>
<svg class="ic" style="left:1576px;top:713px;color:#8d96a6;" width="32" height="32" viewBox="0 0 24 24" fill="none" stroke="currentColor" stroke-width="2" stroke-linecap="round" stroke-linejoin="round"><path d="m6 9 6 6 6-6"/></svg>
<svg class="ic" style="left:2894px;top:713px;color:#373d4d;" width="32" height="32" viewBox="0 0 24 24" fill="none" stroke="currentColor" stroke-width="2" stroke-linecap="round" stroke-linejoin="round"><rect width="14" height="14" x="8" y="8" rx="2" ry="2"/><path d="M4 16c-1.1 0-2-.9-2-2V4c0-1.1.9-2 2-2h10c1.1 0 2 .9 2 2"/></svg>
<div style="left:1489px;top:786.4px;width:60px;height:55.2px;background:#f5f5f5;border-right:2px solid #ddd;box-sizing:border-box"></div>
<div style="left:1489px;top:794.4px;width:58px;height:39.2px;background:#e2f2ff"></div>
<div style="left:1549px;top:794.4px;width:1409px;height:39.2px;background:#f0f9ff"></div>
<span class="t m" style="left:1510.00px;top:802.27px;font-size:23.8px;color:#6c6c6c;-webkit-text-stroke:0.3px #6c6c6c;">1</span>
<span class="t m" style="left:1562.00px;top:802.27px;font-size:23.8px;color:#0000c4;-webkit-text-stroke:0.55px #0000c4;letter-spacing:-0.007px;">query_str</span>
<span class="t m" style="left:1690.88px;top:802.27px;font-size:23.8px;color:#333a4c;-webkit-text-stroke:0.55px #333a4c;letter-spacing:-0.007px;">: What did the author do growing up?</span>
<span class="t" style="left:1470.15px;top:909.35px;font-size:29px;color:#373d4d;-webkit-text-stroke:0.3px #373d4d;letter-spacing:1.140px;">Output</span>
<svg class="ic" style="left:2944px;top:907.5px;color:#373d4d;" width="32" height="32" viewBox="0 0 24 24" fill="none" stroke="currentColor" stroke-width="2" stroke-linecap="round" stroke-linejoin="round"><path d="m18 15-6-6-6 6"/></svg>
<div style="left:1471px;top:955px;width:1505px;height:406.4px;border:2px solid #e2e8f0;border-radius:12px;background:#fff;box-sizing:border-box"></div>
<div style="left:1473px;top:1035px;width:1501px;height:2px;background:#e2e8f0"></div>
<span class="t" style="left:1498.15px;top:981.35px;font-size:29px;color:#373d4d;-webkit-text-stroke:0.3px #373d4d;letter-spacing:0.337px;">YAML</span>
<svg class="ic" style="left:1576px;top:980px;color:#8d96a6;" width="32" height="32" viewBox="0 0 24 24" fill="none" stroke="currentColor" stroke-width="2" stroke-linecap="round" stroke-linejoin="round"><path d="m6 9 6 6 6-6"/></svg>
<svg class="ic" style="left:2894px;top:980px;color:#373d4d;" width="32" height="32" viewBox="0 0 24 24" fill="none" stroke="currentColor" stroke-width="2" stroke-linecap="round" stroke-linejoin="round"><rect width="14" height="14" x="8" y="8" rx="2" ry="2"/><path d="M4 16c-1.1 0-2-.9-2-2V4c0-1.1.9-2 2-2h10c1.1 0 2 .9 2 2"/></svg>
<div style="left:1489px;top:1053.4px;width:63px;height:290.4px;background:#f5f5f5;border-right:2px solid #ddd;box-sizing:border-box"></div>
<div style="left:1489px;top:1061.4px;width:61px;height:39.2px;background:#e2f2ff"></div>
<div style="left:1552px;top:1061.4px;width:1406px;height:39.2px;background:#f0f9ff"></div>
<span class="t m" style="left:1510.00px;top:1069.27px;font-size:23.8px;color:#6c6c6c;-webkit-text-stroke:0.3px #6c6c6c;">1</span>
<span class="t m" style="left:1532.50px;top:1069.27px;font-size:23.8px;color:#6c6c6c;-webkit-text-stroke:0.3px #6c6c6c;">⌄</span>
<span class="t m" style="left:1565.00px;top:1069.27px;font-size:23.8px;color:#0000c4;-webkit-text-stroke:0.55px #0000c4;letter-spacing:-0.007px;">output</span>
<span class="t m" style="left:1650.92px;top:1069.27px;font-size:23.8px;color:#333a4c;-webkit-text-stroke:0.55px #333a4c;letter-spacing:-0.007px;">:</span>
<span class="t m" style="left:1510.00px;top:1108.47px;font-size:23.8px;color:#6c6c6c;-webkit-text-stroke:0.3px #6c6c6c;">2</span>
<span class="t m" style="left:1565.00px;top:1108.47px;font-size:23.8px;color:#333a4c;-webkit-text-stroke:0.55px #333a4c;letter-spacing:-0.007px;">  </span>
<span class="t m" style="left:1593.64px;top:1108.47px;font-size:23.8px;color:#0000c4;-webkit-text-stroke:0.55px #0000c4;letter-spacing:-0.007px;">role</span>
<span class="t m" style="left:1650.92px;top:1108.47px;font-size:23.8px;color:#333a4c;-webkit-text-stroke:0.55px #333a4c;letter-spacing:-0.007px;">: assistant</span>
<span class="t m" style="left:1510.00px;top:1147.67px;font-size:23.8px;color:#6c6c6c;-webkit-text-stroke:0.3px #6c6c6c;">3</span>
<span class="t m" style="left:1565.00px;top:1147.67px;font-size:23.8px;color:#333a4c;-webkit-text-stroke:0.55px #333a4c;letter-spacing:-0.007px;">  </span>
<span class="t m" style="left:1593.64px;top:1147.67px;font-size:23.8px;color:#0000c4;-webkit-text-stroke:0.55px #0000c4;letter-spacing:-0.007px;">content</span>
<span class="t m" style="left:1693.88px;top:1147.67px;font-size:23.8px;color:#333a4c;-webkit-text-stroke:0.55px #333a4c;letter-spacing:-0.007px;">: The author worked on writing short stories and programming, starting with early</span>
<span class="t m" style="left:1565.00px;top:1186.87px;font-size:23.8px;color:#333a4c;-webkit-text-stroke:0.55px #333a4c;letter-spacing:-0.007px;">attempts on an IBM 1401 in 9th grade, using an early version of Fortran. Later, the author</span>
<span class="t m" style="left:1565.00px;top:1226.07px;font-size:23.8px;color:#333a4c;-webkit-text-stroke:0.55px #333a4c;letter-spacing:-0.007px;">transitioned to working with microcomputers, building a TRS-80 and writing simple games and</span>
<span class="t m" style="left:1565.00px;top:1265.27px;font-size:23.8px;color:#333a4c;-webkit-text-stroke:0.55px #333a4c;letter-spacing:-0.007px;">programs. Despite enjoying programming, the author initially planned to study philosophy in</span>
<span class="t m" style="left:1565.00px;top:1304.47px;font-size:23.8px;color:#333a4c;-webkit-text-stroke:0.55px #333a4c;letter-spacing:-0.007px;">college but eventually switched to AI due to a lack of interest in philosophy courses.</span>
</div>
</body>
</html>
